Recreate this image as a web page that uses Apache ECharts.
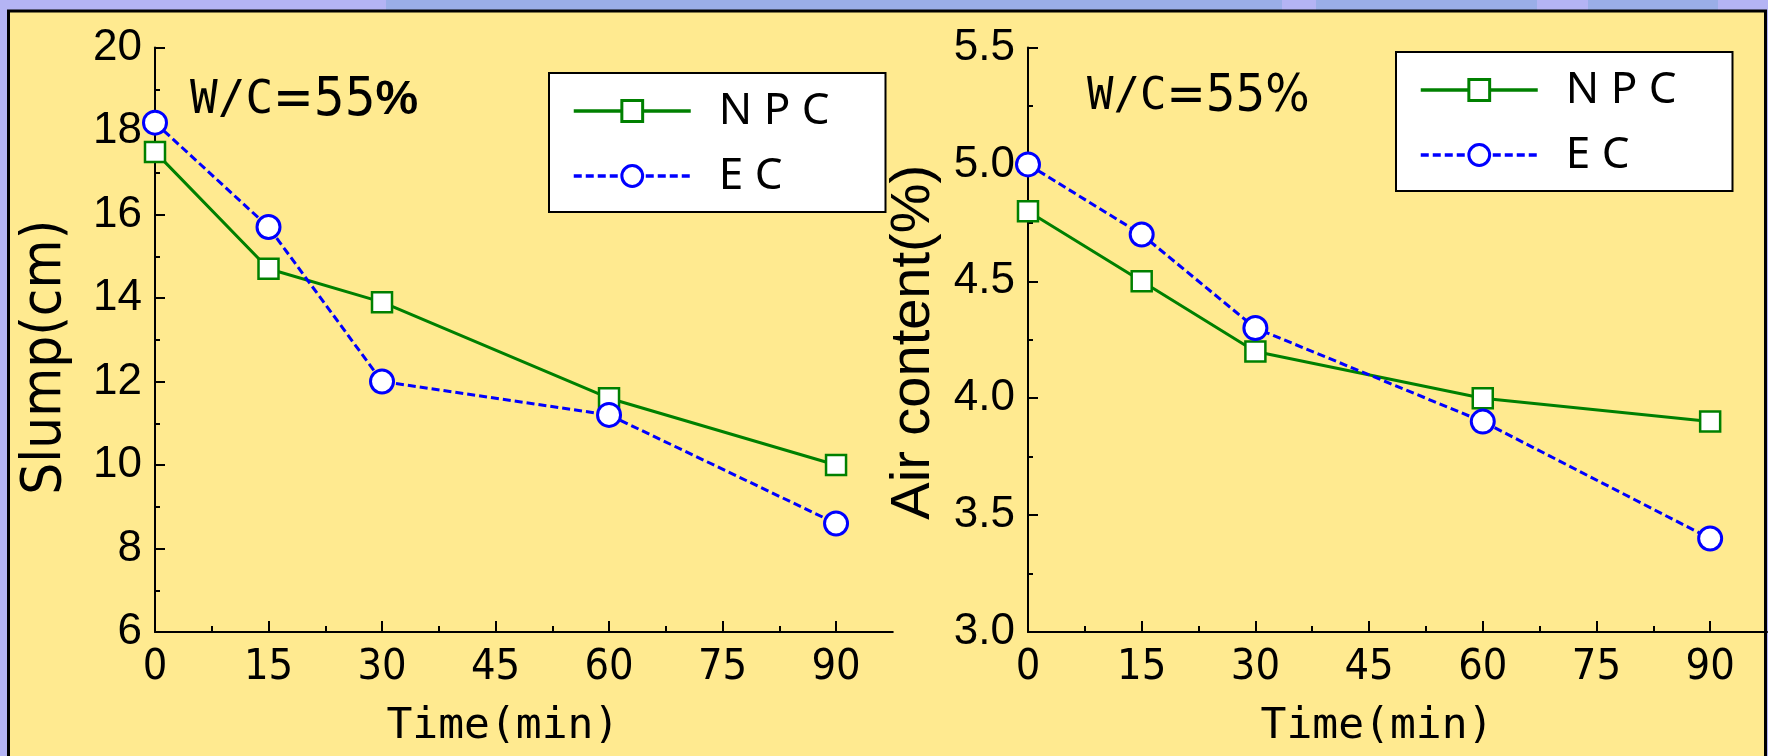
<!DOCTYPE html>
<html><head><meta charset="utf-8">
<script src="https://cdn.jsdelivr.net/npm/echarts@6/dist/echarts.min.js"></script>
<style>
html,body{margin:0;padding:0;}
body{width:1768px;height:756px;overflow:hidden;
background:linear-gradient(90deg,#b4b4f4 0 386px,#9aaee8 386px 1282px,#b4b4f4 1282px 1316px,#9aaee8 1316px 1537px,#b4b4f4 1537px 1588px,#9aaee8 1588px 1718px,#b4b4f4 1718px);}
#c{width:1768px;height:756px;}
</style></head><body><div id="c"></div>
<script>
const times = [0, 15, 30, 60, 90];
const seriesNames = ['N P C', 'E C'];
const slumpNPC = [17.5, 14.7, 13.9, 11.6, 10.0];
const slumpEC = [18.2, 15.7, 12.0, 11.2, 8.6];
const airNPC = [4.8, 4.5, 4.2, 4.0, 3.9];
const airEC = [5.0, 4.7, 4.3, 3.9, 3.4];
const xMajorTicks = [0, 15, 30, 45, 60, 75, 90];
const xAxisName = 'Time(min)';
const yNames = ['Slump(cm)', 'Air content(%)'];

const chart = echarts.init(document.getElementById('c'), null, {renderer: 'canvas'});

const GREEN = '#008000', BLUE = '#0000ff';
const axisLine = {show: true, onZero: false, lineStyle: {color: '#000', width: 2}};

function xMinor(gi, namePad) {
  return {
    type: 'value', gridIndex: gi, position: 'bottom', min: 0, max: 97.5, interval: 7.5,
    axisLine: axisLine,
    axisTick: {show: true, inside: true, length: 6, lineStyle: {color: '#000', width: 2}},
    axisLabel: {
      show: true, margin: 14, color: '#000', fontFamily: '"Liberation Sans Narrow","DejaVu Sans Condensed",sans-serif', fontSize: 43,
      showMaxLabel: false,
      formatter: v => (xMajorTicks.indexOf(v) >= 0 ? String(v) : '')
    },
    splitLine: {show: false},
    name: xAxisName, nameLocation: 'middle', nameGap: 73,
    nameTextStyle: {color: '#000', fontFamily: '"DejaVu Sans Mono",monospace', fontSize: 43, padding: [0, namePad, 0, 0]}
  };
}
function xMajor(gi) {
  return {
    type: 'value', gridIndex: gi, position: 'bottom', min: 0, max: 97.5, interval: 15,
    axisLine: {show: false},
    axisTick: {show: true, inside: true, length: 11, lineStyle: {color: '#000', width: 2}, customValues: xMajorTicks},
    axisLabel: {show: false},
    splitLine: {show: false}
  };
}
function yAx(gi, min, max, interval, name, nameFont, nameSize, nameGap, pad, fmt) {
  return {
    type: 'value', gridIndex: gi, min: min, max: max, interval: interval,
    axisLine: axisLine,
    axisTick: {show: true, inside: true, length: 10, lineStyle: {color: '#000', width: 2}},
    minorTick: {show: true, splitNumber: 2, length: 5, lineStyle: {color: '#000', width: 2}},
    axisLabel: {margin: 13, color: '#000', fontFamily: '"Liberation Sans",Arial,sans-serif', fontSize: 44, formatter: fmt},
    splitLine: {show: false}, minorSplitLine: {show: false},
    name: name, nameLocation: 'middle', nameGap: nameGap,
    nameTextStyle: {color: '#000', fontFamily: nameFont, fontSize: nameSize, padding: [0, pad, 0, 0]}
  };
}
function ser(name, data, xi, yi, npc) {
  return {
    type: 'line', name: name, xAxisIndex: xi, yAxisIndex: yi,
    data: times.map((t, i) => [t, data[i]]),
    symbol: npc ? 'rect' : 'circle', symbolSize: npc ? 20 : 23,
    itemStyle: {color: '#fff', borderColor: npc ? GREEN : BLUE, borderWidth: npc ? 2.5 : 3},
    lineStyle: {color: npc ? GREEN : BLUE, width: 3, type: npc ? 'solid' : [8, 4]},
    clip: false, z: npc ? 3 : 4
  };
}
function legend(left, top) {
  return {
    show: true, orient: 'vertical', left: left, top: top,
    backgroundColor: '#fff', borderColor: '#000', borderWidth: 2, borderRadius: 0,
    padding: [16, 56, 14, 23], itemWidth: 117, itemHeight: 26, itemGap: 21,
    lineStyle: {width: 3.5},
    itemStyle: {borderWidth: 3},
    textStyle: {color: '#000', fontFamily: '"Noto Sans","Open Sans",sans-serif', fontSize: 44, lineHeight: 44, padding: [0, 0, 0, 23]},
    data: seriesNames, selectedMode: false
  };
}

const option = {
  animation: false,
  backgroundColor: 'transparent',
  graphic: [
    {type: 'rect', z: -100, shape: {x: 8.5, y: 11, width: 1757, height: 800},
     style: {fill: '#ffea90', stroke: '#000', lineWidth: 3}},
    {type: 'text', z: 10, x: 190, y: 101,
     style: {text: '{a|W/C}{b|=55}{c|%}', fill: '#000', align: 'left', verticalAlign: 'middle',
       rich: {
         a: {fontFamily: '"DejaVu Sans Mono",monospace', fontSize: 46, fill: '#000'},
         b: {fontFamily: '"Liberation Sans Narrow","DejaVu Sans Condensed",sans-serif', fontSize: 54, fill: '#000'},
         c: {fontFamily: '"Liberation Sans",Arial,sans-serif', fontSize: 48, fontWeight: 'bold', fill: '#000'}
       }}},
    {type: 'text', z: 10, x: 1087, y: 97.5,
     style: {text: '{a|W/C}{b|=55%}', fill: '#000', align: 'left', verticalAlign: 'middle',
       rich: {
         a: {fontFamily: '"DejaVu Sans Mono",monospace', fontSize: 44, fill: '#000'},
         b: {fontFamily: '"Liberation Sans Narrow","DejaVu Sans Condensed",sans-serif', fontSize: 52, fill: '#000'}
       }}}
  ],
  grid: [
    {left: 155, top: 47.5, width: 737.8, height: 584.5, containLabel: false},
    {left: 1028, top: 47.5, width: 739, height: 584.5, containLabel: false}
  ],
  xAxis: [xMinor(0, 42), xMajor(0), xMinor(1, 41), xMajor(1)],
  yAxis: [
    yAx(0, 6, 20, 2, yNames[0], '"Liberation Sans Narrow","DejaVu Sans Condensed",sans-serif', 56, 82, 35, v => String(v)),
    yAx(1, 3, 5.5, 0.5, yNames[1], '"Liberation Sans",Arial,sans-serif', 56, 86, 5, v => v.toFixed(1))
  ],
  legend: [legend(549, 73), legend(1396, 52)],
  series: [
    ser(seriesNames[0], slumpNPC, 0, 0, true),
    ser(seriesNames[1], slumpEC, 0, 0, false),
    ser(seriesNames[0], airNPC, 2, 1, true),
    ser(seriesNames[1], airEC, 2, 1, false)
  ]
};
chart.setOption(option);
</script></body></html>
